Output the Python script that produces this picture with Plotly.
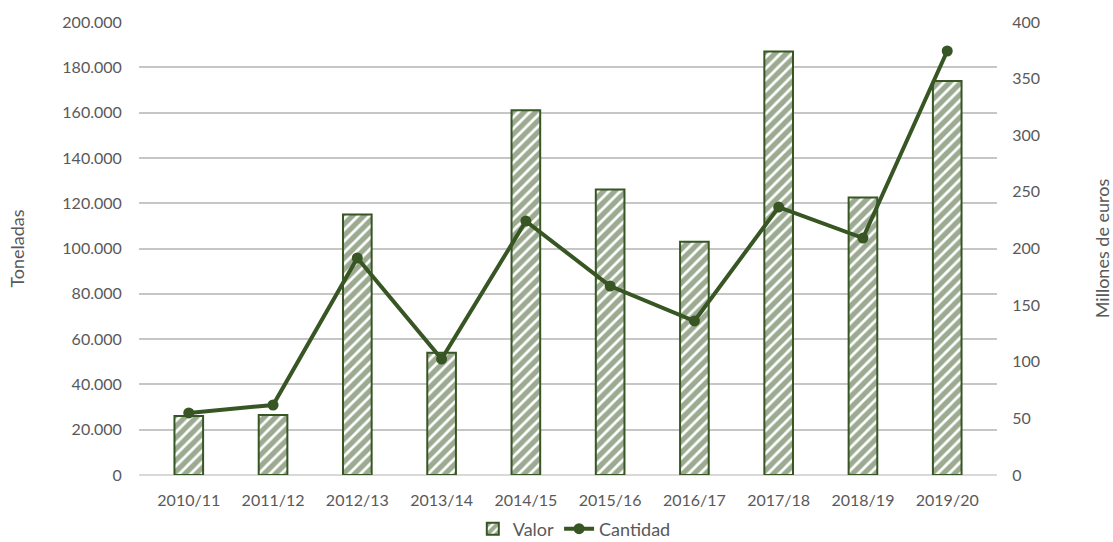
import plotly.graph_objects as go

categories = ["2010/11", "2011/12", "2012/13", "2013/14", "2014/15",
              "2015/16", "2016/17", "2017/18", "2018/19", "2019/20"]
valor_meur = [52, 53, 230, 108, 322, 252, 206, 374, 245, 348]
cantidad_t = [27400, 30900, 95800, 51200, 112100, 83400, 68000, 118300, 104600, 187200]
left_ticks = [0, 20000, 40000, 60000, 80000, 100000, 120000, 140000, 160000, 180000, 200000]
left_tick_text = ["0", "20.000", "40.000", "60.000", "80.000", "100.000", "120.000",
                  "140.000", "160.000", "180.000", "200.000"]
right_ticks = [0, 50, 100, 150, 200, 250, 300, 350, 400]

GREEN = "#375623"
FONT = "Lato"
TXT = "#595959"

fig = go.Figure()
# Bars: Valor (millones de euros) on the right-hand base axis
fig.add_trace(go.Bar(
    x=categories, y=valor_meur, name="Valor", yaxis="y",
    marker=dict(color="white", line=dict(color=GREEN, width=2),
                pattern=dict(shape="/", fgcolor=GREEN, bgcolor="white",
                             size=8, solidity=0.65, fillmode="overlay")),
    width=0.34,
))
# Line: Cantidad (toneladas) on the left overlaying axis (drawn on top)
fig.add_trace(go.Scatter(
    x=categories, y=cantidad_t, name="Cantidad", yaxis="y2",
    mode="lines+markers", line=dict(color=GREEN, width=4),
    marker=dict(color=GREEN, size=11),
))

fig.update_layout(
    width=1113, height=542,
    margin=dict(l=139, r=116, t=22, b=67),
    paper_bgcolor="white", plot_bgcolor="white",
    font=dict(family=FONT, size=16, color=TXT),
    showlegend=True,
    legend=dict(orientation="h", xref="container", yref="container",
                x=0.516, xanchor="center", y=0.024, yanchor="middle",
                font=dict(family=FONT, size=18, color=TXT), traceorder="normal"),
    xaxis=dict(showgrid=False, ticks="outside", ticklen=11, tickcolor="rgba(0,0,0,0)",
               showline=False, automargin=False, tickfont=dict(size=16, color=TXT)),
    yaxis=dict(range=[0, 400], tickvals=right_ticks, side="right",
               showgrid=False, zeroline=False,
               ticks="outside", ticklen=11, tickcolor="rgba(0,0,0,0)",
               automargin=False, tickfont=dict(size=16, color=TXT),
               title=dict(text="Millones de euros", font=dict(size=18, color=TXT), standoff=59)),
    yaxis2=dict(range=[0, 200000], tickvals=left_ticks, ticktext=left_tick_text,
                overlaying="y", side="left",
                showgrid=True, gridcolor="#c6c6c6", gridwidth=1.5,
                zeroline=True, zerolinecolor="#d9d9d9", zerolinewidth=2,
                ticks="outside", ticklen=13, tickcolor="rgba(0,0,0,0)",
                automargin=False, tickfont=dict(size=16, color=TXT),
                title=dict(text="Toneladas", font=dict(size=18, color=TXT), standoff=33)),
)

fig.write_html(
    "out.html",
    config={"displayModeBar": False},
    post_script="document.body.style.margin='0';document.body.style.overflow='hidden';",
)
